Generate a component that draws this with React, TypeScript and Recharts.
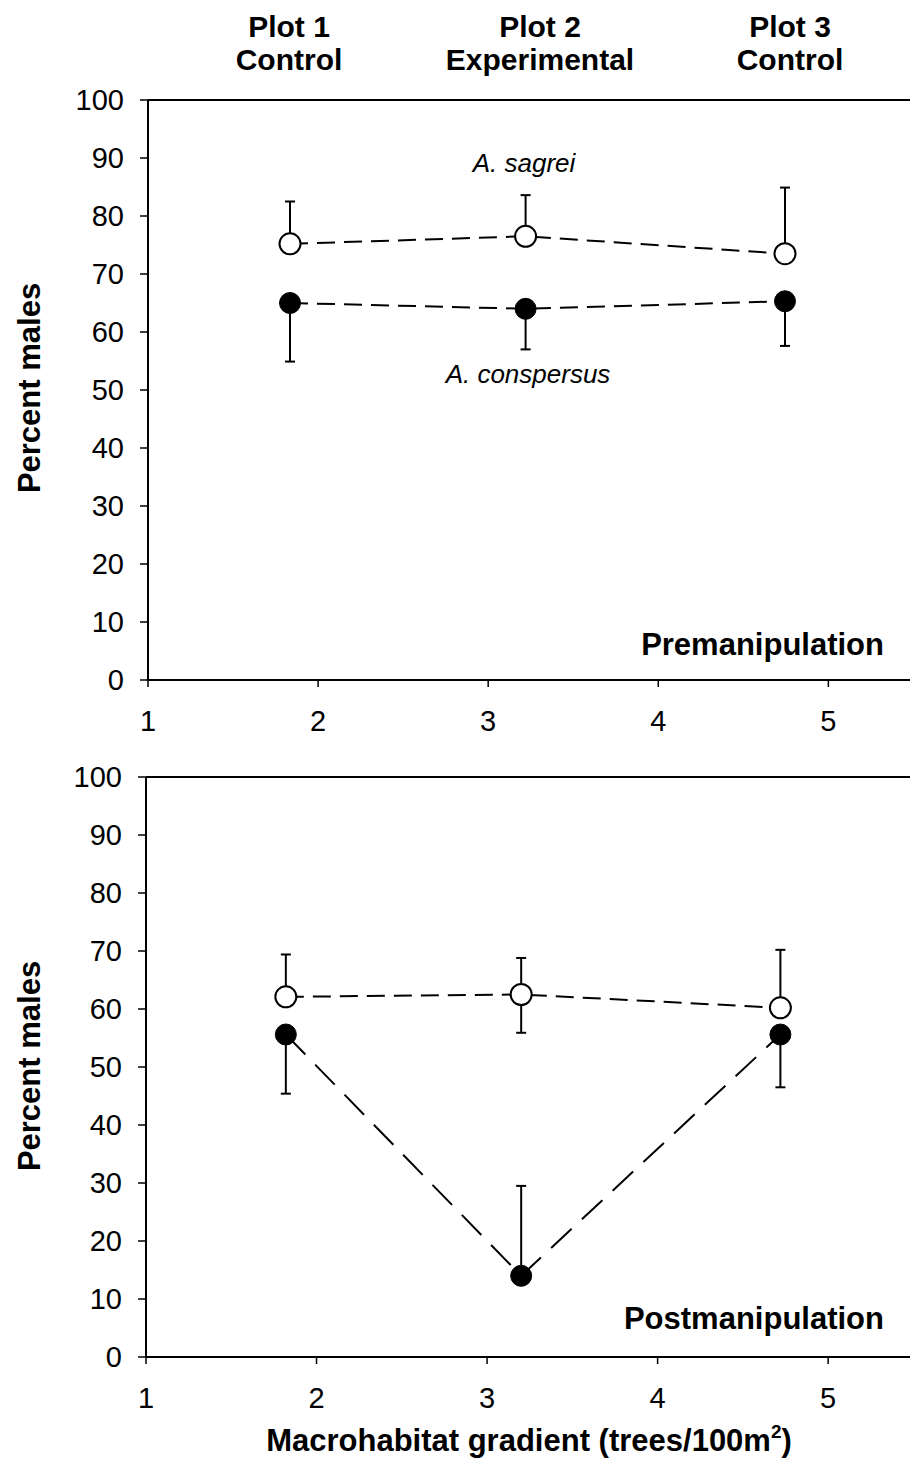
import React from 'react';
import { LineChart, Line, XAxis, YAxis, ErrorBar, ReferenceLine } from 'recharts';

const FONT = '"Liberation Sans", Arial, Helvetica, sans-serif';

// x positions of the three plots along the macrohabitat gradient
const plotPositionsPre = [1.835, 3.22, 4.745];
const plotPositionsPost = [1.82, 3.2, 4.72];
const xTicks = [1, 2, 3, 4, 5];
const yTicks = [0, 10, 20, 30, 40, 50, 60, 70, 80, 90, 100];

const plotTitles = ['Plot 1', 'Plot 2', 'Plot 3'];
const plotTreatments = ['Control', 'Experimental', 'Control'];

// Premanipulation
const sagreiPre = [75.2, 76.5, 73.5];
const sagreiPreErrUp = [7.3, 7.1, 11.4];
const sagreiPreErrDown = [0, 0, 0];
const conspersusPre = [65.0, 64.0, 65.3];
const conspersusPreErrUp = [0, 0, 0];
const conspersusPreErrDown = [10.1, 7.0, 7.7];

// Postmanipulation
const sagreiPost = [62.1, 62.5, 60.2];
const sagreiPostErrUp = [7.3, 6.3, 10.0];
const sagreiPostErrDown = [0, 6.6, 0];
const conspersusPost = [55.6, 14.0, 55.6];
const conspersusPostErrUp = [0, 15.5, 0];
const conspersusPostErrDown = [10.2, 0, 9.1];

const buildData = (
  xs: number[],
  s: number[], sUp: number[], sDown: number[],
  c: number[], cUp: number[], cDown: number[]
) =>
  xs.map((x, i) => ({
    x,
    sagrei: s[i],
    sagreiErr: [sDown[i], sUp[i]],
    conspersus: c[i],
    conspersusErr: [cDown[i], cUp[i]],
  }));

const preData = buildData(plotPositionsPre, sagreiPre, sagreiPreErrUp, sagreiPreErrDown, conspersusPre, conspersusPreErrUp, conspersusPreErrDown);
const postData = buildData(plotPositionsPost, sagreiPost, sagreiPostErrUp, sagreiPostErrDown, conspersusPost, conspersusPostErrUp, conspersusPostErrDown);

type PanelProps = {
  data: any[];
  top: number;
  yAxisWidth: number;
  conspersusDash: string;
};

const Panel = ({ data, top, yAxisWidth, conspersusDash }: PanelProps) => (
  <div style={{ position: 'absolute', left: 0, top }}>
    <LineChart width={910} height={740} data={data} margin={{ top: 100, right: 0, bottom: 0, left: 0 }}>
      <XAxis
        type="number"
        dataKey="x"
        domain={[1, 5.48]}
        ticks={xTicks}
        allowDataOverflow
        height={60}
        tickSize={7}
        tickMargin={23}
        tick={{ fill: '#000', fontSize: 29, fontFamily: FONT }}
        axisLine={{ stroke: '#000', strokeWidth: 2 }}
        tickLine={{ stroke: '#000', strokeWidth: 1.5 }}
      />
      <YAxis
        type="number"
        domain={[0, 100]}
        ticks={yTicks}
        allowDataOverflow
        width={yAxisWidth}
        tickSize={8}
        tickMargin={16}
        tick={{ fill: '#000', fontSize: 29, fontFamily: FONT }}
        axisLine={{ stroke: '#000', strokeWidth: 2 }}
        tickLine={{ stroke: '#000', strokeWidth: 1.5 }}
      />
      <ReferenceLine y={100} stroke="#000" strokeWidth={2} />
      <Line
        type="linear"
        dataKey="sagrei"
        stroke="#000"
        strokeWidth={2}
        strokeDasharray="18 9"
        dot={{ r: 10.5, fill: '#fff', stroke: '#000', strokeWidth: 2, strokeDasharray: 'none' }}
        activeDot={false}
        isAnimationActive={false}
      >
        <ErrorBar dataKey="sagreiErr" direction="y" width={5} stroke="#000" strokeWidth={2} />
      </Line>
      <Line
        type="linear"
        dataKey="conspersus"
        stroke="#000"
        strokeWidth={2}
        strokeDasharray={conspersusDash}
        dot={{ r: 10.5, fill: '#000', stroke: '#000', strokeWidth: 1, strokeDasharray: 'none' }}
        activeDot={false}
        isAnimationActive={false}
      >
        <ErrorBar dataKey="conspersusErr" direction="y" width={5} stroke="#000" strokeWidth={2} />
      </Line>
    </LineChart>
  </div>
);

const titleCenters = [289, 540, 790];

export default function App() {
  return (
    <div style={{ position: 'absolute', left: 0, top: 0, width: 910, height: 1479, background: '#fff' }}>
      <Panel data={preData} top={0} yAxisWidth={148} conspersusDash="18 9" />
      <Panel data={postData} top={677} yAxisWidth={146} conspersusDash="28 14" />
      <svg
        width={910}
        height={1479}
        style={{ position: 'absolute', left: 0, top: 0, pointerEvents: 'none' }}
      >
        {plotTitles.map((t, i) => (
          <text key={t} x={titleCenters[i]} y={37} textAnchor="middle" fontFamily={FONT} fontWeight="bold" fontSize={30} fill="#000">
            {t}
          </text>
        ))}
        {plotTreatments.map((t, i) => (
          <text key={t + i} x={titleCenters[i]} y={70} textAnchor="middle" fontFamily={FONT} fontWeight="bold" fontSize={30} fill="#000">
            {t}
          </text>
        ))}
        <text x={524} y={172} textAnchor="middle" fontFamily={FONT} fontStyle="italic" fontSize={26} fill="#000">
          A. sagrei
        </text>
        <text x={528} y={383} textAnchor="middle" fontFamily={FONT} fontStyle="italic" fontSize={26} fill="#000">
          A. conspersus
        </text>
        <text x={884} y={655} textAnchor="end" fontFamily={FONT} fontWeight="bold" fontSize={31} fill="#000">
          Premanipulation
        </text>
        <text x={884} y={1329} textAnchor="end" fontFamily={FONT} fontWeight="bold" fontSize={31} fill="#000">
          Postmanipulation
        </text>
        <text transform="translate(40,388) rotate(-90)" textAnchor="middle" fontFamily={FONT} fontWeight="bold" fontSize={31} fill="#000">
          Percent males
        </text>
        <text transform="translate(40,1066) rotate(-90)" textAnchor="middle" fontFamily={FONT} fontWeight="bold" fontSize={31} fill="#000">
          Percent males
        </text>
        <text x={529} y={1451} textAnchor="middle" fontFamily={FONT} fontWeight="bold" fontSize={31} fill="#000">
          Macrohabitat gradient (trees/100m
          <tspan fontSize={19} dy={-13}>2</tspan>
          <tspan dy={13}>)</tspan>
        </text>
      </svg>
    </div>
  );
}
